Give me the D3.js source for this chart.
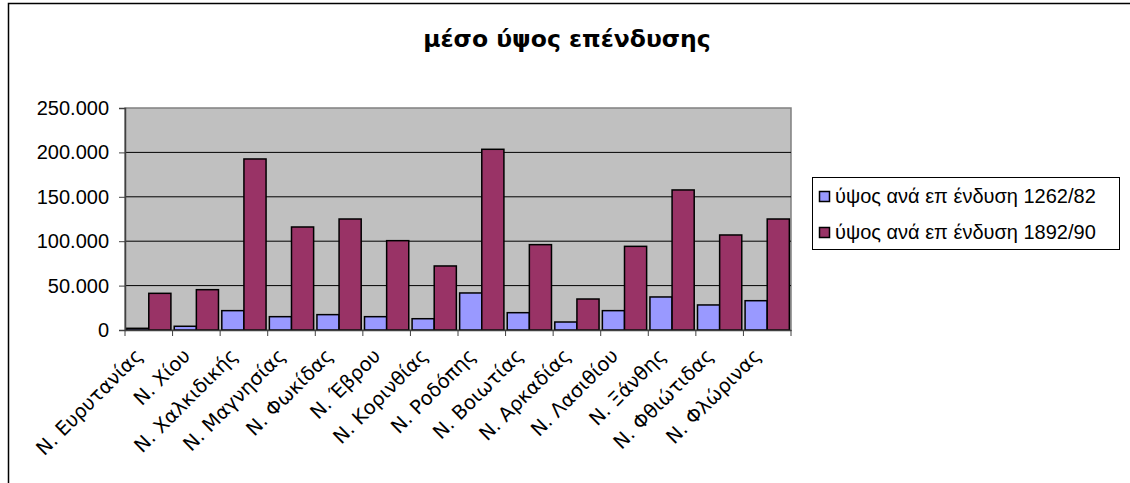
<!DOCTYPE html>
<html>
<head>
<meta charset="utf-8">
<script src="https://cdn.jsdelivr.net/npm/d3@7"></script>
<style>
  html, body { margin: 0; padding: 0; background: #fff; }
  svg { display: block; }
</style>
</head>
<body>
<svg id="chart" width="1130" height="483"></svg>
<script>
const categories = ["Ν. Ευρυτανίας", "Ν. Χίου", "Ν. Χαλκιδικής", "Ν. Μαγνησίας", "Ν. Φωκίδας", "Ν. Έβρου", "Ν. Κορινθίας", "Ν. Ροδόπης", "Ν. Βοιωτίας", "Ν. Αρκαδίας", "Ν. Λασιθίου", "Ν. Ξάνθης", "Ν. Φθιώτιδας", "Ν. Φλώρινας"];
const series1Name = "ύψος ανά επ ένδυση 1262/82";
const series2Name = "ύψος ανά επ ένδυση 1892/90";
const series1 = [1900, 4200, 21800, 15000, 17300, 15000, 12700, 41700, 19500, 9000, 21800, 37200, 28200, 33000];
const series2 = [41300, 45400, 192600, 116000, 125000, 100600, 72100, 203500, 96100, 34900, 94200, 157700, 107000, 125000];
const yTicks = [0, 50000, 100000, 150000, 200000, 250000];
const title = "μέσο ύψος επένδυσης";

const svg = d3.select("#chart");
const W = 1130, H = 483;
const plot = { left: 125, right: 791, top: 108, bottom: 330 };
const colors = ["#9999FF", "#993366"];
const font = "'Liberation Sans', Arial, sans-serif";

// outer frame
svg.append("rect").attr("x", 8.5).attr("y", 3.5).attr("width", W + 10).attr("height", H + 10)
  .attr("fill", "#fff").attr("stroke", "#000").attr("stroke-width", 1.5);

// title
svg.append("text").attr("x", 567).attr("y", 47).attr("text-anchor", "middle")
  .attr("font-family", "'DejaVu Sans', Verdana, sans-serif").attr("font-weight", "bold")
  .attr("font-size", 23.5).attr("fill", "#000").text(title);

const x = d3.scaleBand().domain(categories).range([plot.left, plot.right]).paddingInner(0).paddingOuter(0);
const y = d3.scaleLinear().domain([0, 250000]).range([plot.bottom, plot.top]);
const inner = d3.scaleBand().domain([0, 1]).range([0, x.bandwidth()]).paddingInner(0).paddingOuter(0.075);

// plot background
svg.append("rect").attr("x", plot.left).attr("y", plot.top)
  .attr("width", plot.right - plot.left).attr("height", plot.bottom - plot.top)
  .attr("fill", "#C0C0C0").attr("stroke", "#808080").attr("stroke-width", 1.5);

// gridlines
svg.append("g").selectAll("line").data(yTicks.filter(d => d > 0 && d < 250000)).join("line")
  .attr("x1", plot.left).attr("x2", plot.right)
  .attr("y1", d => y(d)).attr("y2", d => y(d))
  .attr("stroke", "#000").attr("stroke-width", 1);

// bars
const data = categories.map((c, i) => ({ c, v: [series1[i], series2[i]] }));
const groups = svg.append("g").selectAll("g").data(data).join("g")
  .attr("transform", d => `translate(${x(d.c)},0)`);
groups.selectAll("rect").data(d => d.v.map((v, k) => ({ v, k }))).join("rect")
  .attr("x", d => inner(d.k)).attr("width", inner.bandwidth())
  .attr("y", d => y(d.v)).attr("height", d => y(0) - y(d.v))
  .attr("fill", d => colors[d.k]).attr("stroke", "#000").attr("stroke-width", 1.5);

// y axis
const yAxis = d3.axisLeft(y).tickValues(yTicks).tickSize(6).tickPadding(10)
  .tickFormat(d => d === 0 ? "0" : d3.format(",")(d).replace(/,/g, "."));
const yg = svg.append("g").attr("transform", `translate(${plot.left},0)`).call(yAxis);
yg.select(".domain").attr("stroke", "#404040").attr("stroke-width", 1.5);
yg.selectAll(".tick line").attr("stroke", "#404040");
yg.selectAll(".tick text").attr("font-family", font).attr("font-size", 20).attr("fill", "#000");

// x axis
const xAxis = d3.axisBottom(x).tickSize(0).tickFormat("");
const xg = svg.append("g").attr("transform", `translate(0,${plot.bottom})`).call(xAxis);
xg.select(".domain").attr("stroke", "#404040").attr("stroke-width", 1.5);
const bounds = categories.map(c => x(c)).concat([plot.right]);
xg.append("g").selectAll("line").data(bounds).join("line")
  .attr("x1", d => d).attr("x2", d => d).attr("y1", 0).attr("y2", 6)
  .attr("stroke", "#404040").attr("stroke-width", 1);

// x labels
svg.append("g").selectAll("text").data(categories).join("text")
  .attr("transform", d => `translate(${x(d) + x.bandwidth() / 2 - 5},${plot.bottom + 27}) rotate(-45)`)
  .attr("text-anchor", "end")
  .attr("font-family", "'DejaVu Sans', Verdana, sans-serif").attr("font-size", 19.5).attr("fill", "#000")
  .text(d => d);

// legend
const lg = svg.append("g");
lg.append("rect").attr("x", 812.5).attr("y", 177.5).attr("width", 307).attr("height", 72)
  .attr("fill", "#fff").attr("stroke", "#000").attr("stroke-width", 1);
const names = [series1Name, series2Name];
const items = lg.selectAll("g.item").data(names).join("g").attr("class", "item")
  .attr("transform", (d, i) => `translate(0,${i * 36})`);
items.append("rect").attr("x", 819.5).attr("y", 191.5).attr("width", 10).attr("height", 10)
  .attr("fill", (d, i) => colors[i]).attr("stroke", "#000").attr("stroke-width", 1.5);
items.append("text").attr("x", 835).attr("y", 203)
  .attr("font-family", font).attr("font-size", 20).attr("fill", "#000").text(d => d);
</script>
</body>
</html>
